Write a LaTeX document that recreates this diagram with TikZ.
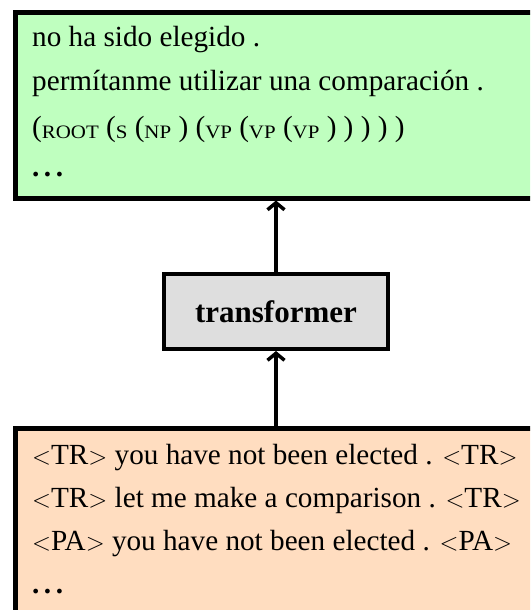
\documentclass[tikz,border=0pt]{standalone}
\usepackage{fontspec}
\usepackage{graphicx}
\setmainfont{Liberation Serif}
\usetikzlibrary{arrows.meta}

\definecolor{outgreen}{RGB}{191,255,191}
\definecolor{inpeach}{RGB}{255,221,192}
\definecolor{modelgray}{RGB}{222,222,222}

\tikzset{
  panel/.style={draw=black, line width=5pt, anchor=north west, inner sep=0pt,
                minimum width=600pt},
  txt/.style={anchor=base west, inner sep=0pt, font=\fontsize{29.2}{34}\selectfont},
  model/.style={draw=black, line width=4pt, fill=modelgray, inner sep=0pt,
                minimum width=224pt, minimum height=75pt,
                font=\fontsize{31}{34}\selectfont\bfseries},
  flow/.style={line width=3.5pt, -{Straight Barb[length=7pt,width=17pt]}}
}
% small-caps style constituent labels of the parse
\newcommand\sctag[1]{\raisebox{-2.5pt}{\scalebox{1.1}[1]{\fontsize{19}{19}\selectfont #1}}}
% heavy ellipsis
\newcommand\moredots{\textbf{.\kern4.5pt.\kern4.5pt.}}

\begin{document}
\begin{tikzpicture}[x=1pt, y=-1pt]
  \clip (0,0) rectangle (530,610);

  % output panel
  \node[panel, fill=outgreen, minimum height=185pt] (out) at (12.5,10.5) {};
  \node[txt] (o1) at (32,47)  {no ha sido elegido .};
  \node[txt] (o2) at (32,90)  {permítanme utilizar una comparación .};
  \node[txt] (o3) at (32,136) {(\sctag{ROOT} (\sctag{S} (\sctag{NP} ) (\sctag{VP} (\sctag{VP} (\sctag{VP} ) ) ) ) )};
  \node[txt] (o4) at (32,176) {\moredots};

  % model
  \node[model] (model) at (276,311.5) {transformer};

  % input panel
  \node[panel, fill=inpeach, minimum height=220pt] (in) at (12.5,425.5) {};
  \node[txt] (i1) at (32,464) {$<$TR$>$ you have not been elected . $<$TR$>$};
  \node[txt] (i2) at (32,507) {$<$TR$>$ let me make a comparison . $<$TR$>$};
  \node[txt] (i3) at (32,550) {$<$PA$>$ you have not been elected . $<$PA$>$};
  \node[txt] (i4) at (32,593) {\moredots};

  % data flow
  \draw[flow] (model.north) -- (model.north |- out.south);
  \draw[flow] (model.south |- in.north) -- (model.south);
\end{tikzpicture}
\end{document}
